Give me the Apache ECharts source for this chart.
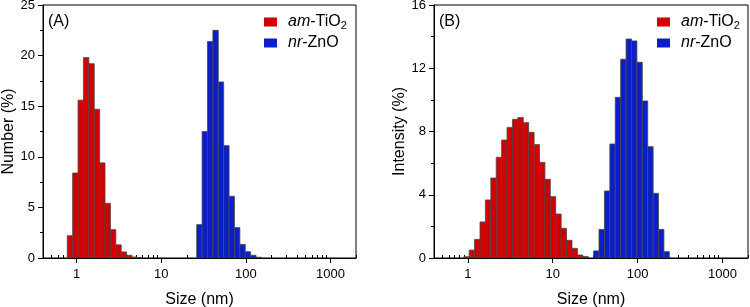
<!DOCTYPE html>
<html>
<head>
<meta charset="utf-8">
<script src="https://cdn.jsdelivr.net/npm/echarts@6/dist/echarts.min.js"></script>
<style>html,body{margin:0;padding:0;background:#fff}#c{width:750px;height:307px}</style>
</head>
<body>
<div id="c"></div>
<script>
// ---- Data (sizes in nm, values in %) ----
const numTiO2Sizes = [0.8332, 0.9649, 1.117, 1.294, 1.499, 1.736, 2.010, 2.328, 2.696, 3.122, 3.615, 4.187, 4.849, 5.615];
const numTiO2Values = [2.2, 8.4, 15.6, 19.8, 19.2, 14.7, 9.4, 5.4, 2.8, 1.3, 0.6, 0.27, 0.1, 0.03];
const numZnOSizes = [28.21, 32.67, 37.84, 43.82, 50.75, 58.77, 68.06, 78.82, 91.28, 105.7, 122.4, 141.8];
const numZnOValues = [3.3, 12.5, 21.4, 22.5, 17.4, 11.1, 6.1, 3.0, 1.35, 0.62, 0.27, 0.07];
const intTiO2Sizes = [0.9649, 1.117, 1.294, 1.499, 1.736, 2.010, 2.328, 2.696, 3.122, 3.615, 4.187, 4.849, 5.615, 6.503, 7.531, 8.721, 10.10, 11.70, 13.54, 15.69, 18.17, 21.04, 24.36];
const intTiO2Values = [0.08, 0.5, 1.18, 2.28, 3.67, 5.06, 6.37, 7.46, 8.26, 8.77, 8.88, 8.56, 7.95, 7.17, 6.05, 4.98, 3.88, 2.78, 1.88, 1.12, 0.61, 0.19, 0.1];
const intZnOSizes = [32.67, 37.84, 43.82, 50.75, 58.77, 68.06, 78.82, 91.28, 105.7, 122.4, 141.8, 164.2, 190.1, 220.2];
const intZnOValues = [0.45, 1.81, 4.24, 7.21, 10.16, 12.57, 13.85, 13.73, 12.38, 9.93, 7.04, 4.09, 1.81, 0.4];
const seriesNames = ['am-TiO2', 'nr-ZnO'];
const xMajorTicks = [1, 10, 100, 1000];
const xMinorTicks = [0.5, 0.6, 0.7, 0.8, 0.9, 2, 3, 4, 5, 6, 7, 8, 9, 20, 30, 40, 50, 60, 70, 80, 90, 200, 300, 400, 500, 600, 700, 800, 900, 2000];
const panelLabels = ['(A)', '(B)'];
const yNames = ['Number (%)', 'Intensity (%)'];
const xName = 'Size (nm)';

const BIN_RATIO = 1.158; // log-spaced bin width ratio
const HALF = Math.sqrt(BIN_RATIO);
const FONT = '"Liberation Sans", Arial, sans-serif';
const RED = '#d20000';
const BLUE = '#0a1ecc';

function pairs(xs, ys) { return xs.map((x, i) => [x, ys[i]]); }

function renderBar(params, api) {
  const c = api.value(0), v = api.value(1);
  const p1 = api.coord([c / HALF, v]);
  const p2 = api.coord([c * HALF, 0]);
  return {
    type: 'rect',
    shape: { x: p1[0], y: p1[1], width: p2[0] - p1[0], height: p2[1] - p1[1] },
    style: { fill: api.visual('color'), stroke: '#474747', lineWidth: 0.8 }
  };
}

function barSeries(name, color, xi, yi, data) {
  return {
    type: 'custom', name: name, xAxisIndex: xi, yAxisIndex: yi,
    renderItem: renderBar, encode: { x: 0, y: 1 }, itemStyle: { color: color },
    data: data, clip: true
  };
}

const grids = [
  { left: 43, top: 5, width: 313, height: 253 },
  { left: 434, top: 5, width: 314, height: 253 }
];

function majorX(gi) {
  return {
    type: 'log', logBase: 10, min: 0.4, max: 2000, gridIndex: gi,
    name: xName, nameLocation: 'middle', nameGap: 34,
    nameTextStyle: { fontSize: 16, fontFamily: FONT, color: '#000' },
    axisLine: { show: true, onZero: false, lineStyle: { color: '#000', width: 1 } },
    axisTick: { show: true, inside: false, length: 5, lineStyle: { color: '#000' }, customValues: xMajorTicks },
    axisLabel: { show: true, margin: 10, fontSize: 13, fontFamily: FONT, color: '#000', customValues: xMajorTicks,
      formatter: v => String(Math.round(v)) },
    minorTick: { show: false }, splitLine: { show: false }
  };
}
function minorX(gi) {
  return {
    type: 'log', logBase: 10, min: 0.4, max: 2000, gridIndex: gi,
    axisLine: { show: false },
    axisTick: { show: true, inside: false, length: 3, lineStyle: { color: '#000' }, customValues: xMinorTicks },
    axisLabel: { show: false }, minorTick: { show: false }, splitLine: { show: false }
  };
}
function yAx(gi, max, interval, name, gap) {
  return {
    type: 'value', min: 0, max: max, interval: interval, gridIndex: gi,
    name: name, nameLocation: 'middle', nameGap: gap,
    nameTextStyle: { fontSize: 16, fontFamily: FONT, color: '#000' },
    axisLine: { show: true, lineStyle: { color: '#000', width: 1 } },
    axisTick: { show: true, inside: false, length: 5, lineStyle: { color: '#000' } },
    minorTick: { show: true, splitNumber: 2, length: 3, lineStyle: { color: '#000' } },
    axisLabel: { margin: 8, fontSize: 13, fontFamily: FONT, color: '#000' },
    splitLine: { show: false }
  };
}

const legendRich = {
  sp: { width: 6 },
  n: { fontSize: 16, fontFamily: FONT, color: '#000', lineHeight: 18 },
  it: { fontSize: 16, fontFamily: FONT, color: '#000', fontStyle: 'italic', lineHeight: 18 },
  sub: { fontSize: 11, fontFamily: FONT, color: '#000', lineHeight: 11, verticalAlign: 'bottom' }
};
function legendFmt(name) {
  if (name === seriesNames[0]) return '{sp|}{it|am}{n|-TiO}{sub|2}';
  return '{sp|}{it|nr}{n|-ZnO}';
}
function legend(left) {
  return {
    left: left, top: 14, orient: 'vertical', data: seriesNames, icon: 'rect',
    itemWidth: 13, itemHeight: 9, itemGap: 4, padding: 0,
    formatter: legendFmt, textStyle: { rich: legendRich, fontSize: 16, fontFamily: FONT, color: '#000' },
    selectedMode: false
  };
}

const option = {
  animation: false,
  backgroundColor: '#fff',
  grid: grids.map(g => Object.assign({ show: true, borderColor: '#000', borderWidth: 1, backgroundColor: 'transparent',
    containLabel: false, outerBoundsMode: 'none' }, g)),
  xAxis: [majorX(0), minorX(0), majorX(1), minorX(1)],
  yAxis: [yAx(0, 25, 5, yNames[0], 25), yAx(1, 16, 4, yNames[1], 25)],
  legend: [legend(264), legend(657)],
  graphic: [
    { type: 'text', left: 48, top: 14, style: { text: panelLabels[0], fontSize: 16, fontFamily: FONT, fill: '#000' } },
    { type: 'text', left: 439, top: 14, style: { text: panelLabels[1], fontSize: 16, fontFamily: FONT, fill: '#000' } }
  ],
  series: [
    barSeries(seriesNames[0], RED, 0, 0, pairs(numTiO2Sizes, numTiO2Values)),
    barSeries(seriesNames[1], BLUE, 0, 0, pairs(numZnOSizes, numZnOValues)),
    barSeries(seriesNames[0], RED, 2, 1, pairs(intTiO2Sizes, intTiO2Values)),
    barSeries(seriesNames[1], BLUE, 2, 1, pairs(intZnOSizes, intZnOValues))
  ]
};

const chart = echarts.init(document.getElementById('c'), null, { renderer: 'canvas' });
chart.setOption(option);
</script>
</body>
</html>
